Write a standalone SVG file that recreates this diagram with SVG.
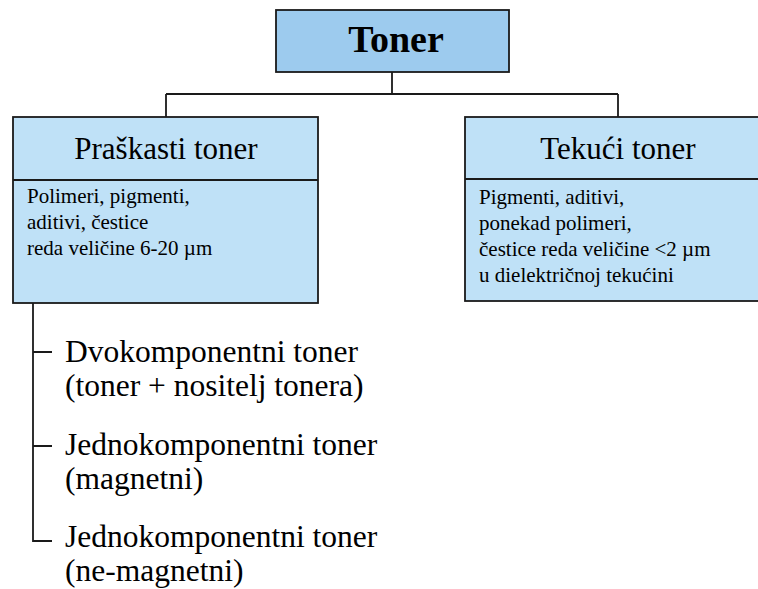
<svg xmlns="http://www.w3.org/2000/svg" width="758" height="589" viewBox="0 0 758 589">
<style>
.box{stroke:#1a1a1a;stroke-width:1.8}
.top{fill:#9dcbee}
.sub{fill:#bfe1f7}
.ln{stroke:#1a1a1a;stroke-width:1.8;fill:none}
text{font-family:"Liberation Serif","Times New Roman",serif;fill:#000}
.h{font-size:31px;text-anchor:middle}
.b{font-size:21px}
.t{font-size:31.5px}
</style>
<rect width="758" height="589" fill="#fff"/>
<g id="connectors">
<path class="ln" d="M392,72V94M166,94H618M166,94V117M618,94V117"/>
<path class="ln" d="M33,303V541H52M33,352H52M33,446H52"/>
</g>
<g id="toner">
<rect class="box top" x="276" y="10" width="233" height="62"/>
<text x="396" y="52" style="font-size:38px;font-weight:bold;text-anchor:middle">Toner</text>
</g>
<g id="praskasti">
<rect class="box sub" x="13" y="117" width="305" height="186"/>
<line class="ln" x1="13" y1="180" x2="318" y2="180"/>
<text class="h" x="166" y="159">Praškasti toner</text>
<text class="b" x="27" y="203">Polimeri, pigmenti,</text>
<text class="b" x="27" y="229">aditivi, čestice</text>
<text class="b" x="27" y="255">reda veličine 6-20 µm</text>
</g>
<g id="tekuci">
<rect class="box sub" x="465" y="117" width="305" height="184"/>
<line class="ln" x1="465" y1="179" x2="770" y2="179"/>
<text class="h" x="618" y="159">Tekući toner</text>
<text class="b" x="479" y="204">Pigmenti, aditivi,</text>
<text class="b" x="479" y="230">ponekad polimeri,</text>
<text class="b" x="479" y="256">čestice reda veličine &lt;2 µm</text>
<text class="b" x="479" y="282">u dielektričnoj tekućini</text>
</g>
<g id="dvokomponentni">
<text class="t" x="65" y="362">Dvokomponentni toner</text>
<text class="t" x="65" y="396">(toner + nositelj tonera)</text>
</g>
<g id="jedno-magnetni">
<text class="t" x="65" y="455">Jednokomponentni toner</text>
<text class="t" x="65" y="489">(magnetni)</text>
</g>
<g id="jedno-nemagnetni">
<text class="t" x="65" y="547">Jednokomponentni toner</text>
<text class="t" x="65" y="581">(ne-magnetni)</text>
</g>
</svg>
